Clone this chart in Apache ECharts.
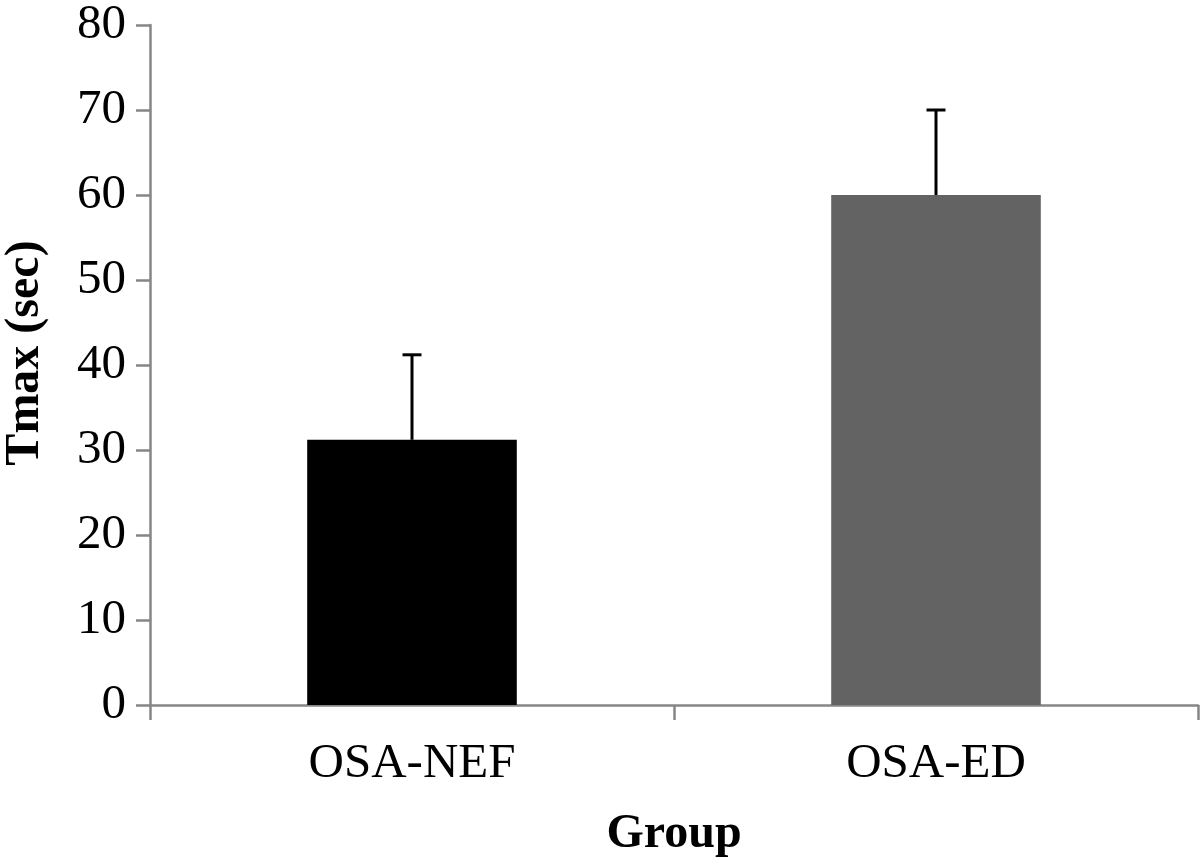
<!DOCTYPE html>
<html>
<head>
<meta charset="utf-8">
<script src="https://cdn.jsdelivr.net/npm/echarts@6/dist/echarts.min.js"></script>
<style>html,body{margin:0;padding:0;background:#fff}#c{width:1200px;height:859px}</style>
</head>
<body>
<div id="c"></div>
<script>
const categories = ['OSA-NEF', 'OSA-ED'];
const means = [31.2, 60.0];
const errors = [10.0, 10.0];
const barColors = ['#000000', '#636363'];
const yTicks = { min: 0, max: 80, interval: 10 };

const chart = echarts.init(document.getElementById('c'), null, { renderer: 'canvas' });
const font = '"Liberation Serif", "Times New Roman", serif';
const axisColor = '#868686';

chart.setOption({
  animation: false,
  backgroundColor: '#ffffff',
  grid: { left: 150, right: 2, top: 25, bottom: 154, containLabel: false, outerBoundsMode: 'none' },
  xAxis: {
    type: 'category',
    data: categories,
    name: 'Group',
    nameLocation: 'middle',
    nameGap: 106,
    nameTextStyle: { fontFamily: font, fontSize: 48, fontWeight: 'bold', color: '#000' },
    axisLine: { lineStyle: { color: axisColor, width: 2.5 } },
    axisTick: { show: true, length: 15, lineStyle: { color: axisColor, width: 2.5 } },
    axisLabel: { fontFamily: font, fontSize: 49, color: '#000', margin: 35 },
    splitLine: { show: false }
  },
  yAxis: {
    type: 'value',
    min: yTicks.min, max: yTicks.max, interval: yTicks.interval,
    name: 'Tmax (sec)',
    nameLocation: 'middle',
    nameGap: 100,
    nameRotate: 90,
    nameTextStyle: { fontFamily: font, fontSize: 48, fontWeight: 'bold', color: '#000', padding: [0, 0, 0, 24] },
    axisLine: { show: true, lineStyle: { color: axisColor, width: 2.5 } },
    axisTick: { show: true, length: 14, lineStyle: { color: axisColor, width: 2.5 } },
    axisLabel: { fontFamily: font, fontSize: 49, color: '#000', margin: 24 },
    splitLine: { show: false }
  },
  series: [
    {
      type: 'bar',
      data: means.map((v, i) => ({ value: v, itemStyle: { color: barColors[i] } })),
      barWidth: '40%',
      z: 2
    },
    {
      type: 'custom',
      z: 3,
      data: means.map((v, i) => [i, v, v + errors[i]]),
      renderItem: function (params, api) {
        const base = api.coord([api.value(0), api.value(1)]);
        const top = api.coord([api.value(0), api.value(2)]);
        const half = 9.5;
        const style = { stroke: '#000', lineWidth: 3 };
        return {
          type: 'group',
          children: [
            { type: 'line', shape: { x1: base[0], y1: base[1], x2: top[0], y2: top[1] }, style },
            { type: 'line', shape: { x1: top[0] - half, y1: top[1], x2: top[0] + half, y2: top[1] }, style }
          ]
        };
      }
    }
  ]
});
</script>
</body>
</html>
